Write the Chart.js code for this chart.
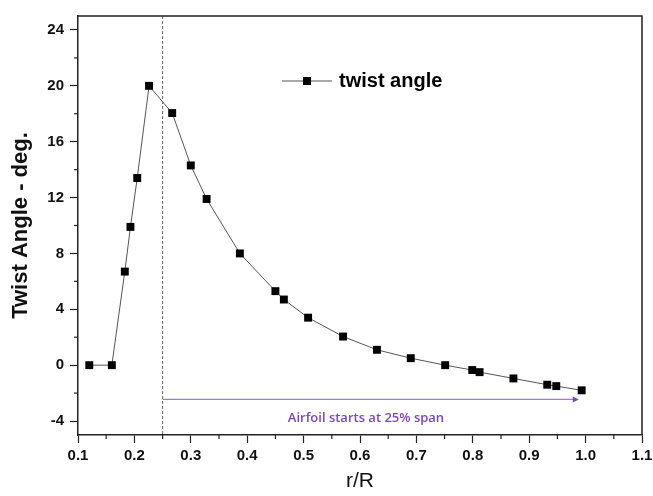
<!DOCTYPE html>
<html>
<head>
<meta charset="utf-8">
<script src="https://cdn.jsdelivr.net/npm/chart.js@4.4.1/dist/chart.umd.min.js"></script>
<style>
    html, body { margin: 0; padding: 0; background: #fff; }
    #contenedor { width: 653px; height: 496px; }
</style>
</head>
<body>
<div id="contenedor"><canvas id="grafico"></canvas></div>
<script>
// Datos
const radios = [0.12, 0.16, 0.183, 0.193, 0.205, 0.226, 0.267, 0.30, 0.328, 0.387, 0.45, 0.465, 0.508, 0.57, 0.63, 0.69, 0.751, 0.799, 0.812, 0.872, 0.932, 0.948, 0.993]
const torsion = [0, 0, 6.7, 9.9, 13.4, 20.0, 18.05, 14.3, 11.9, 8.0, 5.3, 4.7, 3.4, 2.05, 1.1, 0.5, 0.0, -0.35, -0.5, -0.95, -1.4, -1.5, -1.8]
const ticksX = [0.1, 0.2, 0.3, 0.4, 0.5, 0.6, 0.7, 0.8, 0.9, 1.0, 1.1]
const ticksY = [-4, 0, 4, 8, 12, 16, 20, 24]
const menoresX = [0.15, 0.25, 0.35, 0.45, 0.55, 0.65, 0.75, 0.85, 0.95, 1.05]
const menoresY = [-2, 2, 6, 10, 14, 18, 22]

const etiquetaSerie = 'twist angle'
const textoNota = 'Airfoil starts at 25% span'
const inicioPerfil = 0.25
const finFlecha = 0.988
const alturaFlecha = -2.45

const colorNota = '#7d45c2'
const colorLinea = '#555'

// dibuja marco, ticks menores, linea punteada, flecha y leyenda
const decoraciones = {
    id: 'decoraciones',
    beforeDatasetsDraw: (chart) => {
        const { ctx, chartArea, scales } = chart
        const xp = scales.x.getPixelForValue(inicioPerfil)
        ctx.save()
        ctx.strokeStyle = '#666'
        ctx.lineWidth = 1
        ctx.setLineDash([3, 2])
        ctx.beginPath()
        ctx.moveTo(xp, chartArea.top)
        ctx.lineTo(xp, chartArea.bottom)
        ctx.stroke()
        ctx.restore()
    },
    afterDraw: (chart) => {
        const { ctx, chartArea, scales } = chart
        const { left, right, top, bottom } = chartArea
        ctx.save()
        // marco superior y derecho
        ctx.strokeStyle = '#222'
        ctx.lineWidth = 1.5
        ctx.beginPath()
        ctx.moveTo(left, top)
        ctx.lineTo(right, top)
        ctx.lineTo(right, bottom)
        ctx.stroke()

        // ticks menores
        ctx.lineWidth = 1.2
        menoresX.forEach(v => {
            const px = scales.x.getPixelForValue(v)
            ctx.beginPath()
            ctx.moveTo(px, bottom)
            ctx.lineTo(px, bottom + 4)
            ctx.stroke()
        })
        menoresY.forEach(v => {
            const py = scales.y.getPixelForValue(v)
            ctx.beginPath()
            ctx.moveTo(left, py)
            ctx.lineTo(left - 4, py)
            ctx.stroke()
        })

        // flecha del perfil
        const x0 = scales.x.getPixelForValue(inicioPerfil)
        const x1 = scales.x.getPixelForValue(finFlecha)
        const yf = scales.y.getPixelForValue(alturaFlecha)
        ctx.strokeStyle = '#9a7ae0'
        ctx.fillStyle = colorNota
        ctx.lineWidth = 1.2
        ctx.beginPath()
        ctx.moveTo(x0, yf)
        ctx.lineTo(x1 - 4, yf)
        ctx.stroke()
        ctx.beginPath()
        ctx.moveTo(x1, yf)
        ctx.lineTo(x1 - 6, yf - 3)
        ctx.lineTo(x1 - 6, yf + 3)
        ctx.closePath()
        ctx.fill()

        ctx.font = '600 13px "Open Sans"'
        ctx.textAlign = 'left'
        ctx.textBaseline = 'middle'
        ctx.fillText(textoNota, scales.x.getPixelForValue(0.472), yf + 19)

        // leyenda
        const ly = top + 65
        const lx = left + 204
        ctx.strokeStyle = colorLinea
        ctx.lineWidth = 1
        ctx.beginPath()
        ctx.moveTo(lx, ly)
        ctx.lineTo(lx + 50, ly)
        ctx.stroke()
        ctx.fillStyle = '#000'
        ctx.fillRect(lx + 25 - 4, ly - 4, 8, 8)
        ctx.font = 'bold 20px Arial'
        ctx.fillText(etiquetaSerie, lx + 57, ly)
        ctx.restore()
    }
}

const fuenteTicks = { family: 'Arial', size: 15, weight: 'bold' }

new Chart(document.getElementById('grafico'), {
    type: 'scatter',
    data: {
        datasets: [{
            label: etiquetaSerie,
            data: radios.map((r, i) => ({ x: r, y: torsion[i] })),
            showLine: true,
            borderColor: colorLinea,
            borderWidth: 1,
            pointStyle: 'rect',
            pointRadius: 5.6,
            pointHoverRadius: 5.6,
            pointBackgroundColor: '#000',
            pointBorderColor: '#000',
            pointBorderWidth: 0
        }]
    },
    options: {
        responsive: true,
        maintainAspectRatio: false,
        animation: false,
        devicePixelRatio: 1,
        layout: { padding: { top: 16, right: 11, left: 0, bottom: 0 } },
        plugins: {
            legend: { display: false },
            tooltip: { enabled: false }
        },
        scales: {
            x: {
                type: 'linear',
                min: 0.1,
                max: 1.1,
                afterBuildTicks: (scale) => { scale.ticks = ticksX.map(v => ({ value: v })) },
                afterFit: (scale) => {
                    scale.height = 61
                    scale.paddingLeft = 0
                    scale.paddingRight = 0
                },
                ticks: {
                    color: '#111',
                    font: fuenteTicks,
                    padding: 4,
                    maxRotation: 0,
                    autoSkip: false,
                    callback: (v) => Number(v).toFixed(1)
                },
                grid: { drawOnChartArea: false, tickLength: 8, tickColor: '#222', tickWidth: 1.2 },
                border: { color: '#222', width: 1.5 },
                title: {
                    display: true,
                    text: 'r/R',
                    color: '#111',
                    font: { family: 'Arial', size: 21 },
                    padding: { top: 0, bottom: 2 }
                }
            },
            y: {
                type: 'linear',
                min: -5,
                max: 25,
                afterBuildTicks: (scale) => { scale.ticks = ticksY.map(v => ({ value: v })) },
                afterFit: (scale) => {
                    scale.width = 78
                    scale.paddingTop = 0
                    scale.paddingBottom = 0
                },
                ticks: {
                    color: '#111',
                    font: fuenteTicks,
                    padding: 6,
                    autoSkip: false
                },
                grid: { drawOnChartArea: false, tickLength: 8, tickColor: '#222', tickWidth: 1.2 },
                border: { color: '#222', width: 1.5 },
                title: {
                    display: true,
                    text: 'Twist Angle - deg.',
                    color: '#111',
                    font: { family: 'Arial', size: 22, weight: 'bold' },
                    padding: { top: 8, bottom: 0 }
                }
            }
        }
    },
    plugins: [decoraciones]
})
</script>
</body>
</html>
